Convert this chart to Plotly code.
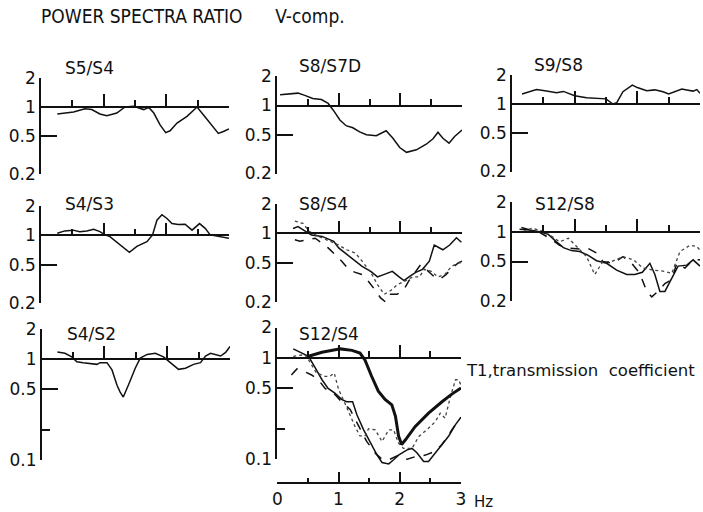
import math
import plotly.graph_objects as go

W, H = 703, 512

# ---------------- data: frequency (Hz) and spectral ratio ----------------
s5s4_f = [0.26, 0.52, 0.70, 0.81, 0.94, 1.05, 1.21, 1.34, 1.48, 1.56, 1.64, 1.72, 1.80, 1.90,
          1.99, 2.06, 2.17, 2.33, 2.49, 2.59, 2.73, 2.83, 2.91, 3.0]
s5s4_v = [0.845, 0.886, 0.96, 0.94, 0.845, 0.81, 0.865, 1.0, 1.02, 0.976, 0.94, 0.99, 0.865, 0.65,
          0.54, 0.565, 0.68, 0.8, 1.0, 0.83, 0.63, 0.53, 0.555, 0.59]

s8s7d_f = [0.05, 0.20, 0.34, 0.45, 0.58, 0.72, 0.83, 0.91, 1.02, 1.12, 1.23, 1.34, 1.45, 1.61,
           1.77, 1.88, 1.99, 2.10, 2.26, 2.42, 2.53, 2.61, 2.69, 2.79, 2.88, 3.0]
s8s7d_v = [1.29, 1.31, 1.34, 1.27, 1.18, 1.15, 1.05, 0.90, 0.71, 0.62, 0.59, 0.535, 0.50, 0.49,
           0.55, 0.46, 0.37, 0.33, 0.35, 0.40, 0.455, 0.53, 0.46, 0.41, 0.48, 0.56]

s9s8_f = [0.16, 0.39, 0.55, 0.71, 0.82, 1.0, 1.19, 1.35, 1.50, 1.61, 1.67, 1.77, 1.92, 2.0,
          2.15, 2.28, 2.41, 2.50, 2.57, 2.71, 2.81, 2.89, 2.95, 3.0]
s9s8_v = [1.27, 1.41, 1.36, 1.31, 1.35, 1.22, 1.16, 1.14, 1.13, 1.0, 1.03, 1.34, 1.57, 1.48,
          1.37, 1.40, 1.34, 1.27, 1.32, 1.43, 1.39, 1.36, 1.41, 1.29]

s4s3_f = [0.26, 0.38, 0.51, 0.62, 0.73, 0.84, 0.94, 1.02, 1.10, 1.26, 1.41, 1.53, 1.69, 1.78,
          1.85, 1.93, 2.01, 2.09, 2.19, 2.30, 2.41, 2.53, 2.62, 2.70, 2.83, 3.0]
s4s3_v = [1.05, 1.11, 1.13, 1.09, 1.11, 1.15, 1.09, 1.01, 0.97, 0.80, 0.67, 0.77, 0.86, 1.01,
          1.43, 1.63, 1.49, 1.32, 1.29, 1.30, 1.13, 1.32, 1.18, 1.01, 0.97, 0.93]

s8s4_f_a = [0.26, 0.34, 0.45, 0.56, 0.73, 0.92, 1.0, 1.13, 1.27, 1.38, 1.52, 1.63, 1.73, 1.87,
            1.98, 2.06, 2.14, 2.25, 2.36, 2.47, 2.55, 2.69, 2.80, 2.91, 2.99]
s8s4_v_a = [1.12, 1.17, 1.06, 0.96, 0.93, 0.83, 0.71, 0.61, 0.52, 0.46, 0.41, 0.36, 0.38, 0.41,
            0.36, 0.33, 0.36, 0.40, 0.43, 0.52, 0.76, 0.68, 0.76, 0.90, 0.81]
s8s4_f_b = [0.29, 0.37, 0.48, 0.62, 0.73, 0.83, 0.94, 1.05, 1.16, 1.27, 1.38, 1.49, 1.60, 1.68,
            1.76, 1.84, 1.95, 2.06, 2.14, 2.25, 2.33, 2.42, 2.53, 2.64, 2.74, 2.85, 2.94, 3.0]
s8s4_v_b = [0.86, 0.83, 0.86, 0.89, 0.79, 0.71, 0.61, 0.52, 0.43, 0.40, 0.38, 0.32, 0.26, 0.22,
            0.20, 0.24, 0.24, 0.27, 0.33, 0.41, 0.48, 0.43, 0.37, 0.34, 0.38, 0.45, 0.50, 0.52]
s8s4_f_c = [0.29, 0.42, 0.53, 0.67, 0.86, 1.0, 1.13, 1.27, 1.38, 1.52, 1.63, 1.74, 1.84, 1.95,
            2.09, 2.20, 2.31, 2.39, 2.50, 2.61, 2.72, 2.83, 2.94, 3.0]
s8s4_v_c = [1.33, 1.26, 1.04, 0.93, 0.83, 0.76, 0.68, 0.63, 0.52, 0.40, 0.30, 0.24, 0.26, 0.30,
            0.33, 0.36, 0.36, 0.43, 0.41, 0.36, 0.38, 0.46, 0.50, 0.50]

s12s8_f_a = [0.12, 0.28, 0.44, 0.58, 0.71, 0.82, 0.95, 1.08, 1.21, 1.35, 1.51, 1.67, 1.83, 1.96,
             2.08, 2.20, 2.28, 2.36, 2.44, 2.55, 2.65, 2.79, 2.89, 3.0]
s12s8_v_a = [1.06, 1.04, 1.0, 0.94, 0.79, 0.69, 0.645, 0.63, 0.58, 0.51, 0.48, 0.41, 0.37, 0.37,
             0.39, 0.48, 0.37, 0.25, 0.25, 0.34, 0.45, 0.46, 0.52, 0.45]
s12s8_f_b = [0.15, 0.28, 0.44, 0.60, 0.76, 0.92, 1.08, 1.21, 1.35, 1.45, 1.61, 1.77, 1.91, 2.04,
             2.15, 2.23, 2.33, 2.44, 2.55, 2.63, 2.76, 2.89, 3.0]
s12s8_v_b = [1.10, 1.05, 0.985, 0.86, 0.73, 0.68, 0.67, 0.68, 0.61, 0.50, 0.48, 0.56, 0.48, 0.38,
             0.25, 0.22, 0.25, 0.30, 0.33, 0.48, 0.43, 0.52, 0.52]
s12s8_f_c = [0.18, 0.31, 0.44, 0.60, 0.76, 0.90, 1.03, 1.19, 1.32, 1.45, 1.59, 1.77, 1.94, 2.09,
             2.25, 2.41, 2.55, 2.68, 2.84, 2.95, 3.0]
s12s8_v_c = [1.0, 1.08, 1.04, 0.93, 0.79, 0.86, 0.71, 0.56, 0.37, 0.50, 0.50, 0.56, 0.52, 0.43,
             0.41, 0.40, 0.38, 0.63, 0.73, 0.71, 0.65]

s4s2_f = [0.25, 0.37, 0.48, 0.56, 0.66, 0.77, 0.88, 0.93, 1.04, 1.12, 1.20, 1.25, 1.30, 1.38,
          1.49, 1.57, 1.68, 1.81, 1.94, 2.05, 2.18, 2.29, 2.42, 2.53, 2.61, 2.69, 2.77, 2.85, 2.93, 3.0]
s4s2_v = [1.17, 1.14, 1.05, 0.94, 0.92, 0.905, 0.885, 0.92, 0.92, 0.78, 0.55, 0.47, 0.42, 0.55,
          0.81, 1.02, 1.11, 1.14, 1.05, 0.92, 0.79, 0.81, 0.885, 0.92, 1.07, 1.14, 1.10, 1.07, 1.16, 1.33]

s12s4_f_a = [0.26, 0.40, 0.51, 0.62, 0.73, 0.83, 0.94, 1.05, 1.13, 1.23, 1.30, 1.41, 1.52, 1.63,
             1.71, 1.82, 1.90, 1.98, 2.12, 2.20, 2.28, 2.39, 2.47, 2.58, 2.69, 2.80, 2.91, 3.0]
s12s4_v_a = [1.23, 1.12, 1.04, 0.80, 0.61, 0.50, 0.45, 0.39, 0.37, 0.37, 0.275, 0.195, 0.144, 0.11,
             0.093, 0.09, 0.099, 0.11, 0.124, 0.128, 0.116, 0.095, 0.095, 0.115, 0.14, 0.17, 0.22, 0.26]
s12s4_f_b = [0.23, 0.32, 0.43, 0.56, 0.67, 0.78, 0.92, 1.05, 1.19, 1.33, 1.46, 1.60, 1.71, 1.84,
             1.98, 2.12, 2.25, 2.42, 2.58, 2.69, 2.83, 2.93, 3.0]
s12s4_v_b = [0.68, 0.78, 0.74, 0.68, 0.61, 0.50, 0.45, 0.37, 0.31, 0.21, 0.15, 0.115, 0.10, 0.10,
             0.11, 0.10, 0.106, 0.11, 0.12, 0.14, 0.19, 0.23, 0.26]
s12s4_f_c = [0.26, 0.45, 0.51, 0.64, 0.78, 0.86, 0.93, 1.0, 1.13, 1.27, 1.35, 1.43, 1.49, 1.60,
             1.71, 1.82, 1.90, 1.98, 2.06, 2.20, 2.31, 2.44, 2.58, 2.66, 2.74, 2.83, 2.91, 2.96, 3.0]
s12s4_v_c = [1.04, 1.08, 0.96, 0.71, 0.66, 0.66, 0.71, 0.49, 0.33, 0.21, 0.17, 0.17, 0.20, 0.195,
             0.15, 0.195, 0.195, 0.144, 0.128, 0.128, 0.168, 0.195, 0.235, 0.285, 0.255, 0.42, 0.61, 0.61, 0.54]
# T1, transmission coefficient
t1_f = [0.51, 0.73, 1.03, 1.22, 1.35, 1.43, 1.54, 1.65, 1.76, 1.87, 1.93, 1.98, 2.03, 2.09,
        2.25, 2.47, 2.69, 2.85, 3.0]
t1_v = [1.04, 1.14, 1.23, 1.19, 1.12, 0.96, 0.66, 0.47, 0.39, 0.345, 0.265, 0.17, 0.14, 0.155,
        0.21, 0.285, 0.37, 0.44, 0.505]

panel_titles = ["S5/S4", "S8/S7D", "S9/S8", "S4/S3", "S8/S4", "S12/S8", "S4/S2", "S12/S4"]
ytick_vals_top = [0.2, 0.5, 1, 2]
ytick_text_top = ["0.2", "0.5", "1", "2"]
ytick_vals_bot = [0.1, 0.2, 0.5, 1, 2]
ytick_text_bot = ["0.1", "", "0.5", "1", "2"]
long_ticks_top = [0.5]
long_ticks_bot = [0.1, 0.5]
xtick_vals = [0, 1, 2, 3]
xtick_text = ["0", "1", "2", "3"]
title_text = "POWER SPECTRA RATIO" + "\u00a0" * 6 + "V-comp."
t1_text = "T1,transmission\u00a0\u00a0coefficient"

# ---------------- layout geometry (pixels) ----------------
# (x_left, x_right, y_of_1, y_of_bottom, bottom_value, title_x, title_y)
geom = [
    (41, 229, 107.0, 174.0, 0.2, 63, 68),
    (277, 462, 105.5, 173.5, 0.2, 297, 66),
    (512, 700, 104.0, 171.5, 0.2, 532, 64.5),
    (41, 229, 235.3, 303.3, 0.2, 63, 204),
    (277, 462, 233.3, 302.0, 0.2, 297, 204),
    (512, 700, 231.7, 301.0, 0.2, 533, 204),
    (41.7, 230, 359.0, 460.0, 0.1, 65, 333.5),
    (277.3, 461, 358.0, 459.3, 0.1, 297, 333.5),
]

BLACK = "#111111"
FONT = "DejaVu Sans"
TITLE_FONT = "DejaVu Sans Condensed, DejaVu Sans"
fig = go.Figure()
annotations = []

series = [
    [(s5s4_f, s5s4_v, "solid", 1.5)],
    [(s8s7d_f, s8s7d_v, "solid", 1.5)],
    [(s9s8_f, s9s8_v, "solid", 1.5)],
    [(s4s3_f, s4s3_v, "solid", 1.5)],
    [(s8s4_f_a, s8s4_v_a, "solid", 1.5), (s8s4_f_b, s8s4_v_b, "dash", 1.5), (s8s4_f_c, s8s4_v_c, "dot", 1.3)],
    [(s12s8_f_a, s12s8_v_a, "solid", 1.5), (s12s8_f_b, s12s8_v_b, "dash", 1.5), (s12s8_f_c, s12s8_v_c, "dot", 1.3)],
    [(s4s2_f, s4s2_v, "solid", 1.5)],
    [(s12s4_f_a, s12s4_v_a, "solid", 1.5), (s12s4_f_b, s12s4_v_b, "dash", 1.5), (s12s4_f_c, s12s4_v_c, "dot", 1.3),
     (t1_f, t1_v, "solid", 3.0)],
]

PAD = 0.08
layout_axes = {}
for i, (xl, xr, y1px, ybpx, vbot, tx, ty) in enumerate(geom):
    n = i + 1
    xs = "x" if n == 1 else f"x{n}"
    ys = "y" if n == 1 else f"y{n}"
    ys_line = f"y{n + 10}"
    ys_long = f"y{n + 20}"
    ppd = (ybpx - y1px) / (-math.log10(vbot))
    lo = math.log10(vbot)
    hi = math.log10(2)
    to_px = lambda r: y1px - r * ppd
    xdom = [xl / W, xr / W]
    frame_dom = [1 - to_px(lo) / H, 1 - to_px(hi) / H]
    data_dom = [1 - to_px(lo - PAD) / H, 1 - to_px(hi + PAD) / H]
    bottom_row = vbot < 0.2
    layout_axes[f"xaxis{'' if n == 1 else n}"] = dict(
        domain=xdom, range=[0, 3], anchor="free", position=1 - y1px / H,
        showline=True, linecolor=BLACK, linewidth=1.6,
        ticks="inside", tick0=0, dtick=1, ticklen=12, tickwidth=1.5, tickcolor=BLACK,
        minor=dict(ticks="inside", tick0=0, dtick=0.5, ticklen=6, tickwidth=1.5, tickcolor=BLACK),
        showticklabels=False, showgrid=False, zeroline=False, fixedrange=True,
    )
    # data axis (a little taller than the drawn frame so curves are not clipped)
    layout_axes[f"yaxis{'' if n == 1 else n}"] = dict(
        domain=data_dom, type="log", range=[lo - PAD, hi + PAD], anchor=xs,
        showline=False, ticks="", showticklabels=False,
        showgrid=False, zeroline=False, fixedrange=True,
    )
    # frame axis: vertical line, short ticks and labels
    layout_axes[f"yaxis{n + 10}"] = dict(
        domain=frame_dom, type="log", range=[lo, hi], anchor=xs,
        showline=True, linecolor=BLACK, linewidth=1.6,
        ticks="inside", ticklen=8, tickwidth=1.6, tickcolor=BLACK,
        showgrid=False, zeroline=False, fixedrange=True,
        tickmode="array",
        tickvals=ytick_vals_bot if bottom_row else ytick_vals_top,
        ticktext=ytick_text_bot if bottom_row else ytick_text_top,
        tickfont=dict(family=FONT, size=17, color=BLACK),
    )
    # overlay y axis: long ticks only
    layout_axes[f"yaxis{n + 20}"] = dict(
        domain=frame_dom, type="log", range=[lo, hi], anchor=xs, overlaying=ys_line,
        showline=False, ticks="inside", ticklen=16, tickwidth=1.6, tickcolor=BLACK,
        tickmode="array", tickvals=long_ticks_bot if bottom_row else long_ticks_top,
        showticklabels=False, showgrid=False, zeroline=False, fixedrange=True,
    )
    fig.add_trace(go.Scatter(x=[], y=[], xaxis=xs, yaxis=ys_line, showlegend=False, hoverinfo="skip"))
    fig.add_trace(go.Scatter(x=[], y=[], xaxis=xs, yaxis=ys_long, showlegend=False, hoverinfo="skip"))
    annotations.append(dict(text=panel_titles[i], xref="paper", yref="paper",
                            x=tx / W, y=1 - ty / H, xanchor="left", yanchor="middle",
                            showarrow=False, font=dict(family=FONT, size=17, color=BLACK)))
    for f, v, dash, wdt in series[i]:
        fig.add_trace(go.Scatter(x=f, y=v, xaxis=xs, yaxis=ys, mode="lines",
                                 line=dict(color=BLACK if dash != "dot" else "#444444",
                                           width=wdt, dash=dash),
                                 showlegend=False, hoverinfo="skip"))

# separate frequency axis under the S12/S4 panel
xl8, xr8 = geom[7][0], geom[7][1]
layout_axes["xaxis9"] = dict(
    domain=[xl8 / W, xr8 / W], range=[0, 3], anchor="free", position=1 - 483.3 / H,
    overlaying="x8", showline=True, linecolor=BLACK, linewidth=1.6,
    ticks="inside", tickmode="array", tickvals=xtick_vals, ticktext=xtick_text,
    ticklen=11, tickwidth=1.5, tickcolor=BLACK,
    minor=dict(ticks="inside", tick0=0, dtick=0.5, ticklen=5, tickwidth=1.5, tickcolor=BLACK),
    showticklabels=True, tickfont=dict(family=FONT, size=17, color=BLACK),
    showgrid=False, zeroline=False, fixedrange=True,
)
fig.add_trace(go.Scatter(x=[], y=[], xaxis="x9", yaxis="y8", showlegend=False))

annotations += [
    dict(text=title_text, xref="paper", yref="paper", x=39 / W, y=1 - 15.5 / H,
         xanchor="left", yanchor="middle", showarrow=False,
         font=dict(family=TITLE_FONT, size=19, color=BLACK)),
    dict(text=t1_text, xref="paper", yref="paper", x=464 / W, y=1 - 370 / H,
         xanchor="left", yanchor="middle", showarrow=False,
         font=dict(family=FONT, size=16.5, color=BLACK)),
    dict(text="Hz", xref="paper", yref="paper", x=472 / W, y=1 - 502 / H,
         xanchor="left", yanchor="middle", showarrow=False,
         font=dict(family=FONT, size=15, color=BLACK)),
]

fig.update_layout(
    width=W, height=H, margin=dict(l=0, r=0, t=0, b=0, autoexpand=False),
    paper_bgcolor="white", plot_bgcolor="rgba(0,0,0,0)",
    annotations=annotations, showlegend=False,
    **layout_axes,
)

fig.write_html("out.html", config={"displayModeBar": False},
               post_script="document.body.style.margin='0';")
